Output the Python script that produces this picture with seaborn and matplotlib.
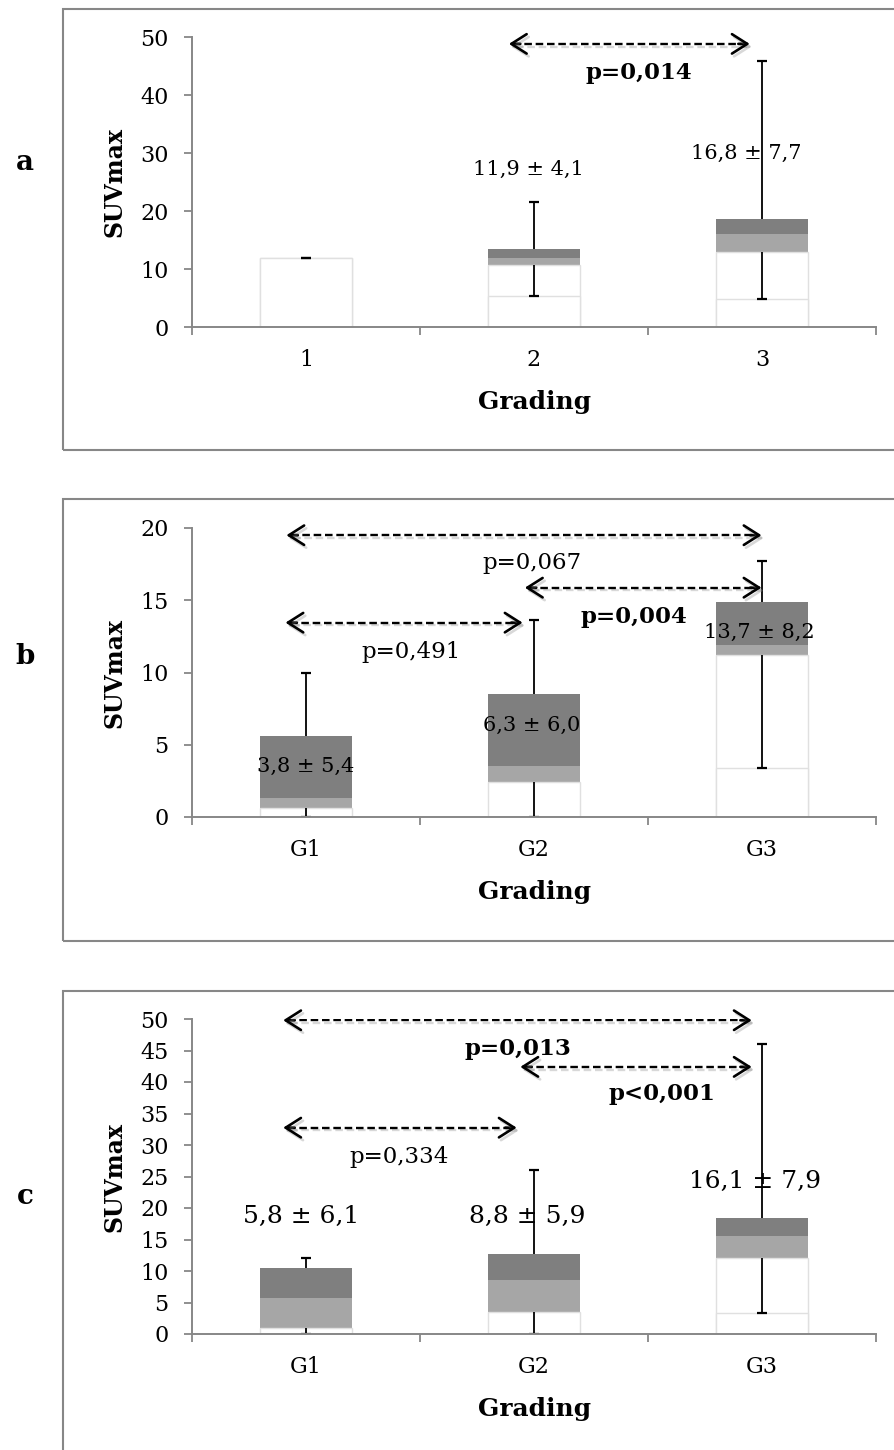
import matplotlib
matplotlib.use("Agg")
import matplotlib.pyplot as plt
import matplotlib.patheffects as pe
from matplotlib.patches import Rectangle
import numpy as np
import seaborn as sns

sns.set_style("ticks")
plt.rcParams["font.family"] = ["DejaVu Serif"]
plt.rcParams["text.color"] = "black"
plt.rcParams["axes.labelcolor"] = "black"

W, H = 895, 1450
DARK = "#7f7f7f"
LIGHT = "#a6a6a6"
EDGE = "#e0e0e0"
AXIS = "#878787"

# ---- data ----
grades_a = ["1", "2", "3"]
grades_g = ["G1", "G2", "G3"]

# panel a
min_a = [12.0, 5.3, 4.8]
q1_a = [12.0, 10.7, 12.9]
med_a = [12.0, 12.0, 16.1]
q3_a = [12.0, 13.4, 18.6]
max_a = [12.0, 21.6, 45.9]
means_a = ["", "11,9 ± 4,1", "16,8 ± 7,7"]

# panel b
min_b = [0.0, 0.0, 3.4]
q1_b = [0.6, 2.4, 11.2]
med_b = [1.3, 3.5, 11.9]
q3_b = [5.6, 8.5, 14.9]
max_b = [10.0, 13.6, 17.7]
means_b = ["3,8 ± 5,4", "6,3 ± 6,0", "13,7 ± 8,2"]

# panel c
min_c = [0.0, 0.0, 3.4]
q1_c = [0.9, 3.5, 12.0]
med_c = [5.7, 8.5, 15.6]
q3_c = [10.4, 12.7, 18.4]
max_c = [12.1, 26.0, 46.0]
means_c = ["5,8 ± 6,1", "8,8 ± 5,9", "16,1 ± 7,9"]

# p-values of the group comparisons
p_a = ["p=0,014"]
p_b = ["p=0,067", "p=0,004", "p=0,491"]
p_c = ["p=0,013", "p<0,001", "p=0,334"]

fig = plt.figure(figsize=(W / 100, H / 100), dpi=100)


def px_axes(left, top, right, bottom):
    return fig.add_axes([left / W, 1 - bottom / H, (right - left) / W, (bottom - top) / H])


def draw_boxes(ax, grades, mins, q1, med, q3, maxs):
    # excel-style stacked box plot: overlapping bars, tallest first
    kw = dict(x=grades, width=0.4, saturation=1, ax=ax, errorbar=None, zorder=2)
    sns.barplot(y=q3, color=DARK, edgecolor="none", linewidth=0, **kw)
    sns.barplot(y=med, color=LIGHT, edgecolor="none", linewidth=0, **kw)
    sns.barplot(y=q1, color="white", edgecolor=EDGE, linewidth=1, **kw)
    sns.barplot(y=mins, color="white", edgecolor=EDGE, linewidth=1, **kw)
    pos = np.arange(len(grades))
    ax.vlines(pos, mins, q1, color="black", lw=1.3, zorder=2.2)
    ax.vlines(pos, q3, maxs, color="black", lw=1.3, zorder=2.2)
    ax.hlines(mins, pos - 0.022, pos + 0.022, color="black", lw=1.6, zorder=2.2)
    ax.hlines(maxs, pos - 0.022, pos + 0.022, color="black", lw=1.6, zorder=2.2)


def style_axes(ax, ymax, ystep, grades, height_px):
    ax.set_xlim(-0.5, 2.5)
    ax.set_ylim(0, ymax)
    ax.set_yticks(np.arange(0, ymax + 1, ystep))
    ax.set_xticks(range(len(grades)))
    ax.set_xticklabels(grades)
    ax.set_xticks([-0.5, 0.5, 1.5, 2.5], minor=True)
    for s in ["top", "right"]:
        ax.spines[s].set_visible(False)
    for s in ["left", "bottom"]:
        ax.spines[s].set_color(AXIS)
        ax.spines[s].set_linewidth(1.4)
    ax.tick_params(axis="y", length=6, width=1.3, color=AXIS, pad=11,
                   labelsize=16, labelcolor="black")
    ax.tick_params(axis="x", which="major", length=0, pad=16, labelsize=16,
                   labelcolor="black")
    ax.tick_params(axis="x", which="minor", length=6, width=1.3, color=AXIS)
    ax.set_xlabel("Grading", fontsize=18, fontweight="bold", va="center")
    ax.xaxis.set_label_coords((535 - 192) / 684, -75 / height_px)
    ax.set_ylabel("SUVmax", fontsize=17, fontweight="bold", va="center")
    ax.yaxis.set_label_coords((115 - 192) / 684, 0.5)


shadow = [pe.SimpleLineShadow(offset=(1.5, -2), shadow_color="0.5", alpha=0.3), pe.Normal()]


def double_arrow(ax, x0, x1, y):
    ax.plot([x0 + 0.02, x1 - 0.02], [y, y], color="black", lw=1.7,
            ls=(0, (3.2, 1.6)), path_effects=shadow, zorder=4)
    for tip, tail in ((x0, x0 + 0.05), (x1, x1 - 0.05)):
        ax.annotate("", xy=(tip, y), xytext=(tail, y), zorder=4,
                    arrowprops=dict(arrowstyle="->,head_length=1.1,head_width=0.7",
                                    mutation_scale=10, lw=1.9, color="black",
                                    shrinkA=0, shrinkB=0, path_effects=shadow))


# frames around each panel
for top, bottom in [(9, 450), (499, 941), (991, 1475)]:
    fig.add_artist(Rectangle((63 / W, 1 - bottom / H), (910 - 63) / W, (bottom - top) / H,
                             fill=False, ec=AXIS, lw=1.5, transform=fig.transFigure))

# ---- panel a ----
ax_a = px_axes(192, 37.5, 876, 327)
draw_boxes(ax_a, grades_a, min_a, q1_a, med_a, q3_a, max_a)
style_axes(ax_a, 50, 10, grades_a, 289.5)
for x, y, s in zip([0.0, 0.975, 1.93], [27.2, 27.2, 30.0], means_a):
    ax_a.text(x, y, s, ha="center", va="center", fontsize=15, zorder=5)
double_arrow(ax_a, 0.89, 1.946, 48.9)
ax_a.text(1.46, 43.9, p_a[0], ha="center", va="center", fontsize=16.5, fontweight="bold")

# ---- panel b ----
ax_b = px_axes(192, 528, 876, 817)
draw_boxes(ax_b, grades_g, min_b, q1_b, med_b, q3_b, max_b)
style_axes(ax_b, 20, 5, grades_g, 289)
for x, y, s in zip([0.0, 0.99, 1.99], [3.48, 6.37, 12.8], means_b):
    ax_b.text(x, y, s, ha="center", va="center", fontsize=15, zorder=5)
double_arrow(ax_b, -0.086, 1.998, 19.5)
double_arrow(ax_b, 0.96, 1.998, 15.87)
double_arrow(ax_b, -0.09, 0.95, 13.45)
for x, y, s, w in zip([0.99, 1.44, 0.46], [17.6, 13.86, 11.4], p_b, ["normal", "bold", "normal"]):
    ax_b.text(x, y, s, ha="center", va="center", fontsize=16.5, fontweight=w)

# ---- panel c ----
ax_c = px_axes(192, 1019, 876, 1334)
draw_boxes(ax_c, grades_g, min_c, q1_c, med_c, q3_c, max_c)
style_axes(ax_c, 50, 5, grades_g, 315)
for x, y, s in zip([-0.02, 0.97, 1.97], [18.6, 18.6, 24.2], means_c):
    ax_c.text(x, y, s, ha="center", va="center", fontsize=18, zorder=5)
double_arrow(ax_c, -0.1, 1.955, 49.8)
double_arrow(ax_c, 0.94, 1.955, 42.4)
double_arrow(ax_c, -0.1, 0.924, 32.75)
for x, y, s, w in zip([0.93, 1.56, 0.41], [45.3, 38.1, 28.1], p_c, ["bold", "bold", "normal"]):
    ax_c.text(x, y, s, ha="center", va="center", fontsize=16.5, fontweight=w)

# panel letters
for y, s in zip([163, 657, 1197], ["a", "b", "c"]):
    fig.text(25 / W, 1 - y / H, s, ha="center", va="center", fontsize=20, fontweight="bold")

fig.savefig("out.png", dpi=100, facecolor="white")
